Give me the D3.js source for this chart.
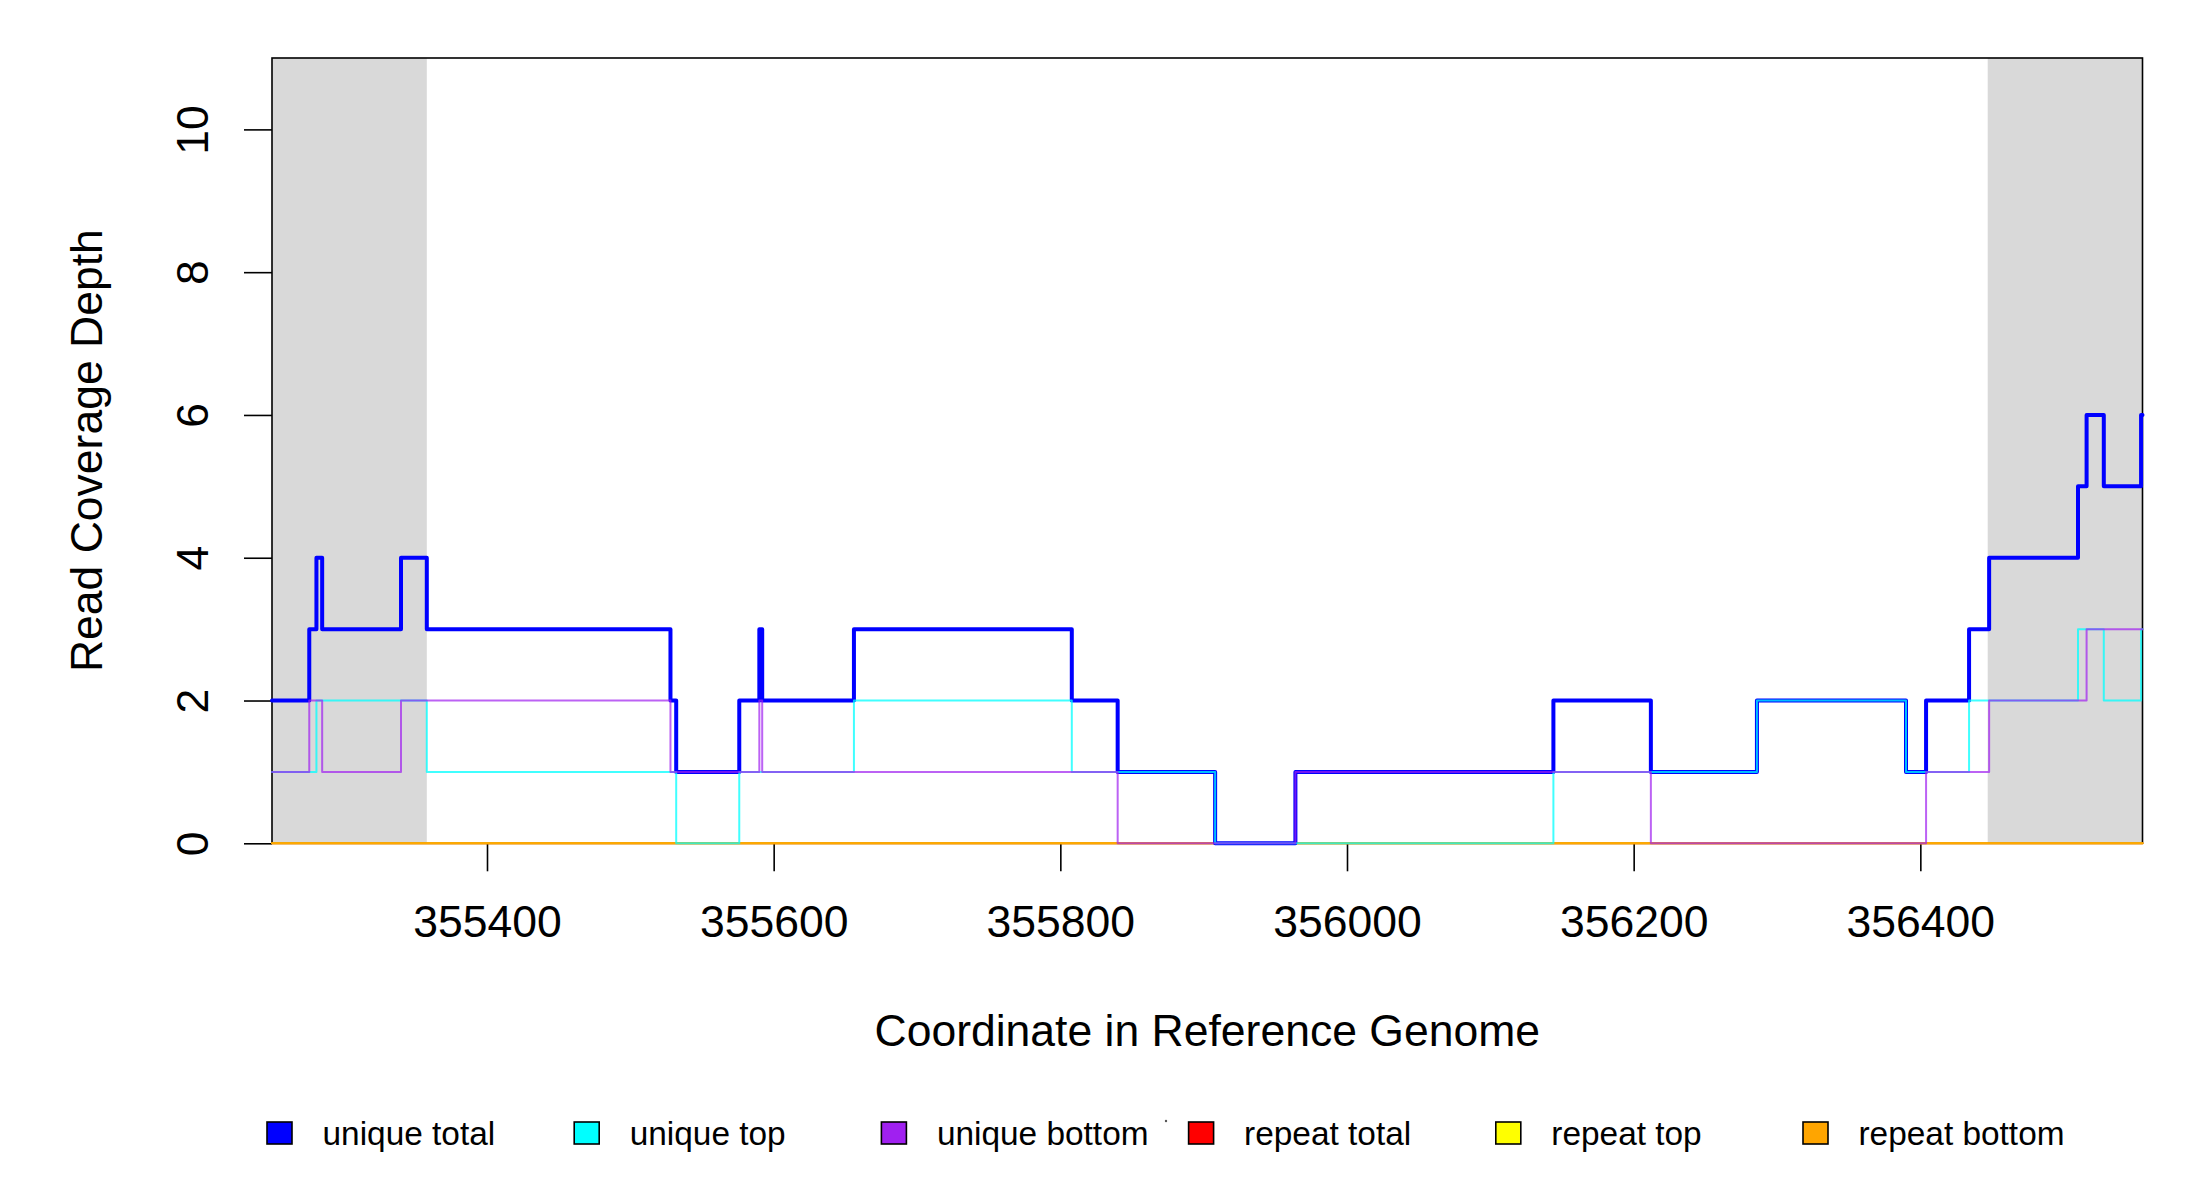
<!DOCTYPE html>
<html>
<head>
<meta charset="utf-8">
<script src="https://cdn.jsdelivr.net/npm/d3@7"></script>
<style>
  html, body { margin: 0; padding: 0; background: #ffffff; }
  svg { display: block; }
  text { font-family: "Liberation Sans", Arial, Helvetica, sans-serif; fill: #000; }
</style>
</head>
<body>
<svg id="chart" width="2200" height="1200"></svg>
<script>
// ---------------- data ----------------
const coordRange = [355250, 356555];
const depthRange = [0, 11];
const xTickValues = [355400, 355600, 355800, 356000, 356200, 356400];
const yTickValues = [0, 2, 4, 6, 8, 10];
const maskedRegions = [[355250, 355358], [356447, 356555]];

// step series: segment start coordinates and depth values (step after)
const uniqueTotalPos = [355250, 355276, 355281, 355285, 355340, 355358, 355528, 355532, 355576, 355590, 355592, 355656, 355808, 355840, 355908, 355964, 356144, 356212, 356286, 356390, 356404, 356434, 356448, 356510, 356516, 356528, 356554];
const uniqueTotalVal = [2, 3, 4, 3, 4, 3, 2, 1, 2, 3, 2, 3, 2, 1, 0, 1, 2, 1, 2, 1, 2, 3, 4, 5, 6, 5, 6];

const uniqueTopPos = [355250, 355281, 355358, 355532, 355576, 355656, 355808, 355908, 356144, 356286, 356390, 356434, 356510, 356528, 356554];
const uniqueTopVal = [1, 2, 1, 0, 1, 2, 1, 0, 1, 2, 1, 2, 3, 2, 3];

const uniqueBottomPos = [355250, 355276, 355285, 355340, 355528, 355590, 355592, 355840, 355964, 356212, 356404, 356448, 356516];
const uniqueBottomVal = [1, 2, 1, 2, 1, 2, 1, 0, 1, 0, 1, 2, 3];

const repeatTotalPos = [355250];
const repeatTotalVal = [0];
const repeatTopPos = [355250];
const repeatTopVal = [0];
const repeatBottomPos = [355250];
const repeatBottomVal = [0];

const seriesNames = ["unique total", "unique top", "unique bottom", "repeat total", "repeat top", "repeat bottom"];
const seriesColors = ["#0000FF", "#00FFFF", "#A020F0", "#FF0000", "#FFFF00", "#FFA500"];

const xLabel = "Coordinate in Reference Genome";
const yLabel = "Read Coverage Depth";

// ---------------- layout ----------------
const L = 272, R = 2142.5, T = 58, B = 843.3;
const svg = d3.select("#chart");
svg.append("rect").attr("x", 0).attr("y", 0).attr("width", 2200).attr("height", 1200).attr("fill", "#fff");

const x = d3.scaleLinear().domain(coordRange).range([L, R]);
const y = d3.scaleLinear().domain(depthRange).range([B, T]);

// masked (grey) regions
svg.append("g").selectAll("rect").data(maskedRegions).join("rect")
  .attr("x", d => x(d[0])).attr("width", d => x(d[1]) - x(d[0]))
  .attr("y", T).attr("height", B - T)
  .attr("fill", "#D9D9D9");

// box
svg.append("rect").attr("x", L).attr("y", T).attr("width", R - L).attr("height", B - T)
  .attr("fill", "none").attr("stroke", "#000").attr("stroke-width", 1.6);

// axes
const FS = 44.5;
const xAxis = svg.append("g").attr("transform", `translate(0,${B})`)
  .call(d3.axisBottom(x).tickValues(xTickValues).tickFormat(d3.format("d")).tickSize(28).tickPadding(34));
xAxis.select(".domain").remove();
xAxis.selectAll("line").attr("stroke", "#000").attr("stroke-width", 1.6);
xAxis.selectAll("text").attr("font-size", FS).attr("font-family", "Liberation Sans, Arial, sans-serif").attr("fill", "#000");

const yAxis = svg.append("g").attr("transform", `translate(${L},0)`)
  .call(d3.axisLeft(y).tickValues(yTickValues).tickFormat(d3.format("d")).tickSize(28));
yAxis.select(".domain").remove();
yAxis.selectAll("line").attr("stroke", "#000").attr("stroke-width", 1.6);
yAxis.selectAll("text")
  .attr("x", null).attr("dy", null)
  .attr("text-anchor", "middle")
  .attr("transform", `translate(${208 - L},0) rotate(-90)`)
  .attr("font-size", FS).attr("font-family", "Liberation Sans, Arial, sans-serif").attr("fill", "#000");

// axis titles
svg.append("text").attr("x", (L + R) / 2).attr("y", 1046)
  .attr("text-anchor", "middle").attr("font-size", FS).text(xLabel);
svg.append("text").attr("transform", `translate(101.5,${(T + B) / 2}) rotate(-90)`)
  .attr("text-anchor", "middle").attr("font-size", FS).text(yLabel);

// ---------------- step lines ----------------
function stepPoints(pos, val) {
  const pts = pos.map((p, i) => [p, val[i]]);
  pts.push([coordRange[1], val[val.length - 1]]);
  return pts;
}
const line = d3.line().x(d => x(d[0])).y(d => y(d[1])).curve(d3.curveStepAfter);

const seriesData = [
  { pts: stepPoints(repeatTotalPos, repeatTotalVal), color: seriesColors[3], w: 2, op: 0.8 },
  { pts: stepPoints(repeatTopPos, repeatTopVal), color: seriesColors[4], w: 2, op: 0.8 },
  { pts: stepPoints(repeatBottomPos, repeatBottomVal), color: seriesColors[5], w: 2, op: 0.9 },
  { pts: stepPoints(uniqueTotalPos, uniqueTotalVal), color: seriesColors[0], w: 4, op: 1 },
  { pts: stepPoints(uniqueTopPos, uniqueTopVal), color: seriesColors[1], w: 2, op: 0.75 },
  { pts: stepPoints(uniqueBottomPos, uniqueBottomVal), color: seriesColors[2], w: 2, op: 0.7 }
];
svg.append("g").selectAll("path").data(seriesData).join("path")
  .attr("d", d => line(d.pts))
  .attr("fill", "none")
  .attr("stroke", d => d.color)
  .attr("stroke-width", d => d.w)
  .attr("stroke-opacity", d => d.op)
  .attr("stroke-linejoin", "round")
  .attr("stroke-linecap", "round");

// ---------------- legend ----------------
const legendX0 = 267, legendStep = 307.2;
const lg = svg.append("g").selectAll("g").data(seriesNames).join("g")
  .attr("transform", (d, i) => `translate(${legendX0 + i * legendStep},0)`);
lg.append("rect").attr("x", 0).attr("y", 1122).attr("width", 25).attr("height", 22)
  .attr("fill", (d, i) => seriesColors[i]).attr("stroke", "#000").attr("stroke-width", 1.6);
lg.append("text").attr("x", 55.5).attr("y", 1145).attr("font-size", 33.4).text(d => d);
// tiny stray mark present in original legend
svg.append("circle").attr("cx", 1166).attr("cy", 1121).attr("r", 1.2).attr("fill", "#555");
</script>
</body>
</html>
